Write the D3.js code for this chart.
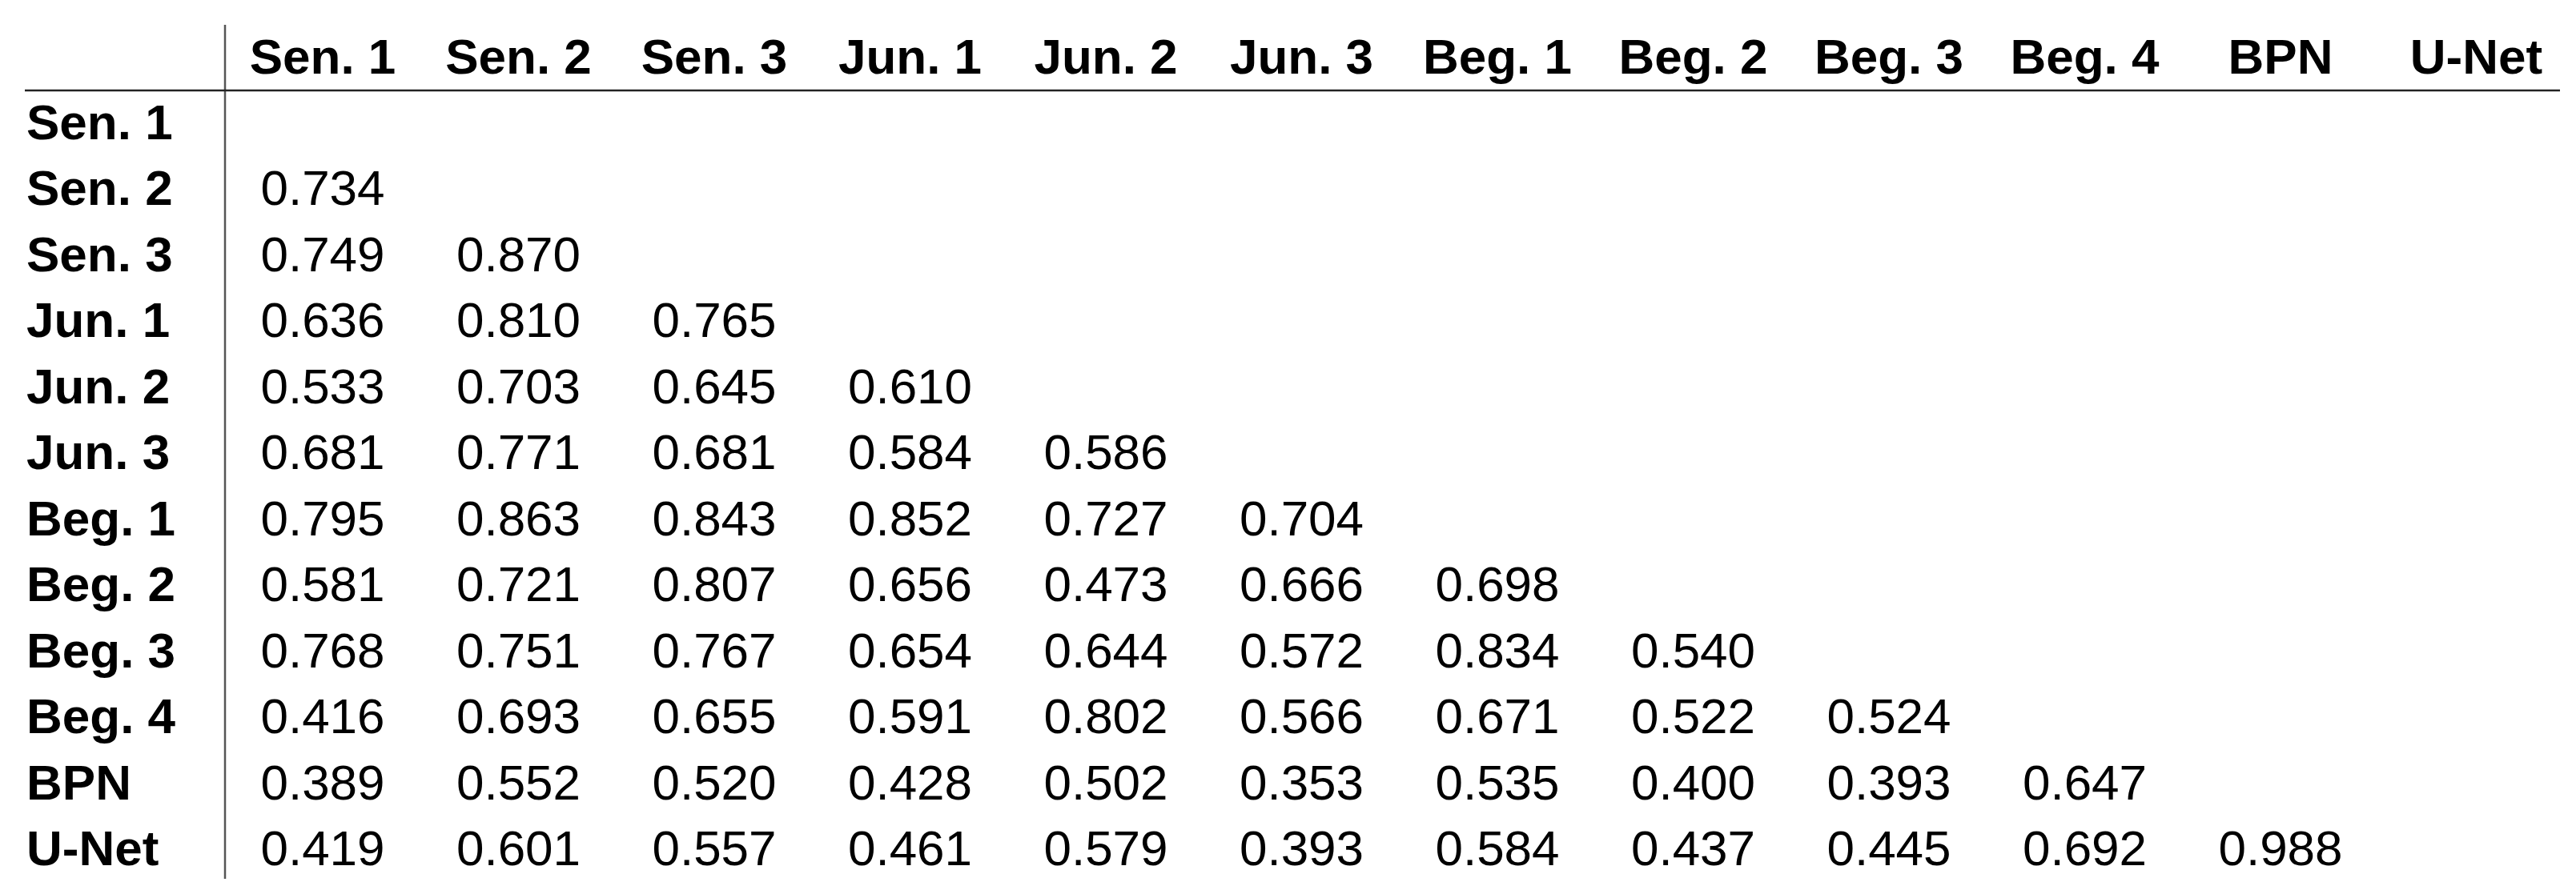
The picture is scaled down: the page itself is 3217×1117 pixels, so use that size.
<!DOCTYPE html>
<html><head><meta charset="utf-8">
<script src="https://cdn.jsdelivr.net/npm/d3@7"></script>
<style>body{margin:0;background:#fff}</style></head>
<body><svg id="c" width="3217" height="1117"></svg>
<script>
const labels = ["Sen. 1","Sen. 2","Sen. 3","Jun. 1","Jun. 2","Jun. 3","Beg. 1","Beg. 2","Beg. 3","Beg. 4","BPN","U-Net"];
const rowValues = [
  [],
  [0.734],
  [0.749,0.870],
  [0.636,0.810,0.765],
  [0.533,0.703,0.645,0.610],
  [0.681,0.771,0.681,0.584,0.586],
  [0.795,0.863,0.843,0.852,0.727,0.704],
  [0.581,0.721,0.807,0.656,0.473,0.666,0.698],
  [0.768,0.751,0.767,0.654,0.644,0.572,0.834,0.540],
  [0.416,0.693,0.655,0.591,0.802,0.566,0.671,0.522,0.524],
  [0.389,0.552,0.520,0.428,0.502,0.353,0.535,0.400,0.393,0.647],
  [0.419,0.601,0.557,0.461,0.579,0.393,0.584,0.437,0.445,0.692,0.988]
];
const svg = d3.select("#c");
const font = "'Liberation Sans', Arial, sans-serif";
const x = d3.scalePoint().domain(labels).range([403, 403+11*244.5]);
const y = d3.scalePoint().domain(labels).range([174, 1081]);
svg.append("line").attr("x1",281).attr("x2",281).attr("y1",31).attr("y2",1098).attr("stroke","#555").attr("stroke-width",2.5);
svg.append("line").attr("x1",31).attr("x2",3197).attr("y1",113).attr("y2",113).attr("stroke","#222").attr("stroke-width",2.5);
svg.selectAll(".h").data(labels).join("text").attr("x",d=>x(d)).attr("y",92)
  .attr("text-anchor","middle").attr("font-family",font).attr("font-weight","bold").attr("font-size",62).text(d=>d);
svg.selectAll(".r").data(labels).join("text").attr("x",33).attr("y",d=>y(d))
  .attr("font-family",font).attr("font-weight","bold").attr("font-size",62).text(d=>d);
const cells = rowValues.flatMap((r,i)=>r.map((v,j)=>({row:labels[i],col:labels[j],v})));
svg.selectAll(".v").data(cells).join("text").attr("x",d=>x(d.col)).attr("y",d=>y(d.row))
  .attr("text-anchor","middle").attr("font-family",font).attr("font-size",62).text(d=>d3.format(".3f")(d.v));
</script></body></html>
